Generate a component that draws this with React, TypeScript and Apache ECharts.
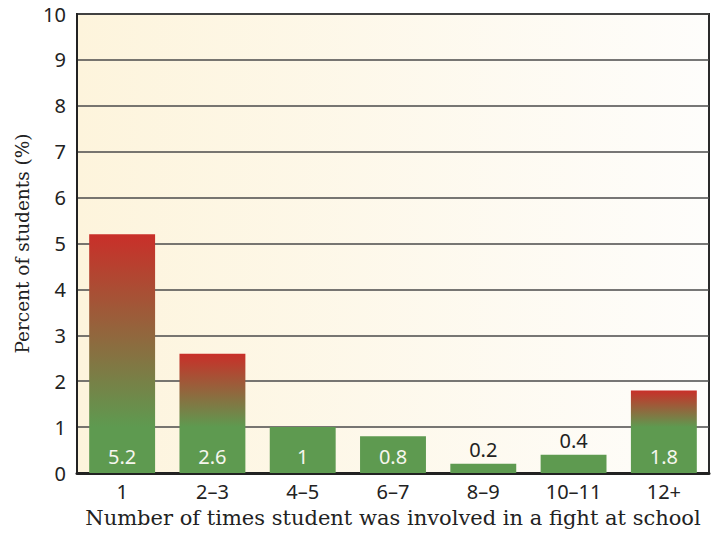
import React, { useEffect, useRef } from "react";
import * as echarts from "echarts";

const categories = ["1", "2–3", "4–5", "6–7", "8–9", "10–11", "12+"];
const values = [5.2, 2.6, 1, 0.8, 0.2, 0.4, 1.8];
const yMin = 0;
const yMax = 10;
const yStep = 1;
const xTitle = "Number of times student was involved in a fight at school";
const yTitle = "Percent of students (%)";

const GREEN = "#5e9a50";
const RED = "#c92f29";

function barColor(v: number) {
  if (v <= 1) return GREEN;
  const g = 1 - 1 / v;
  return new echarts.graphic.LinearGradient(0, 0, 0, 1, [
    { offset: 0, color: RED },
    { offset: g, color: GREEN },
    { offset: 1, color: GREEN },
  ]);
}

export default function App() {
  const ref = useRef<HTMLDivElement>(null);
  useEffect(() => {
    document.body.style.margin = "0";
    const chart = echarts.init(ref.current!, null, { renderer: "svg" });
    chart.setOption({
      animation: false,
      grid: {
        left: 77,
        right: 12,
        top: 14,
        bottom: 60,
        show: true,
        backgroundColor: new echarts.graphic.LinearGradient(0, 0, 1, 0, [
          { offset: 0, color: "#fdf4dc" },
          { offset: 1, color: "#fefdfb" },
        ]),
        borderColor: "#2a2a2a",
        borderWidth: 2,
      },
      xAxis: {
        type: "category",
        data: categories,
        axisTick: { show: false },
        axisLine: { lineStyle: { color: "#222", width: 3 } },
        axisLabel: {
          fontFamily: "Noto Sans",
          fontSize: 20,
          color: "#222",
          margin: 8,
        },
        name: xTitle,
        nameLocation: "middle",
        nameGap: 34,
        nameTextStyle: { fontFamily: "DejaVu Serif", fontSize: 21, color: "#222" },
      },
      yAxis: {
        type: "value",
        min: yMin,
        max: yMax,
        interval: yStep,
        axisLine: { show: true, lineStyle: { color: "#222", width: 2 } },
        axisTick: { show: false },
        splitLine: { lineStyle: { color: "#4a4a4a", width: 1.6 } },
        axisLabel: {
          fontFamily: "Noto Sans",
          fontSize: 20,
          color: "#222",
          margin: 11,
        },
        name: yTitle,
        nameLocation: "middle",
        nameGap: 44,
        nameTextStyle: { fontFamily: "DejaVu Serif", fontSize: 18.5, color: "#222" },
      },
      series: [
        {
          type: "bar",
          barCategoryGap: "27%",
          data: values.map((v) => ({
            value: v,
            itemStyle: { color: barColor(v) },
            label:
              v < 0.5
                ? { position: "top", color: "#222", distance: 4 }
                : { position: "insideBottom", color: "#f6f6ee", distance: 7 },
          })),
          label: {
            show: true,
            fontFamily: "Noto Sans",
            fontSize: 20,
          },
        },
      ],
    });
    return () => chart.dispose();
  }, []);
  return <div ref={ref} style={{ width: 721, height: 533 }} />;
}
